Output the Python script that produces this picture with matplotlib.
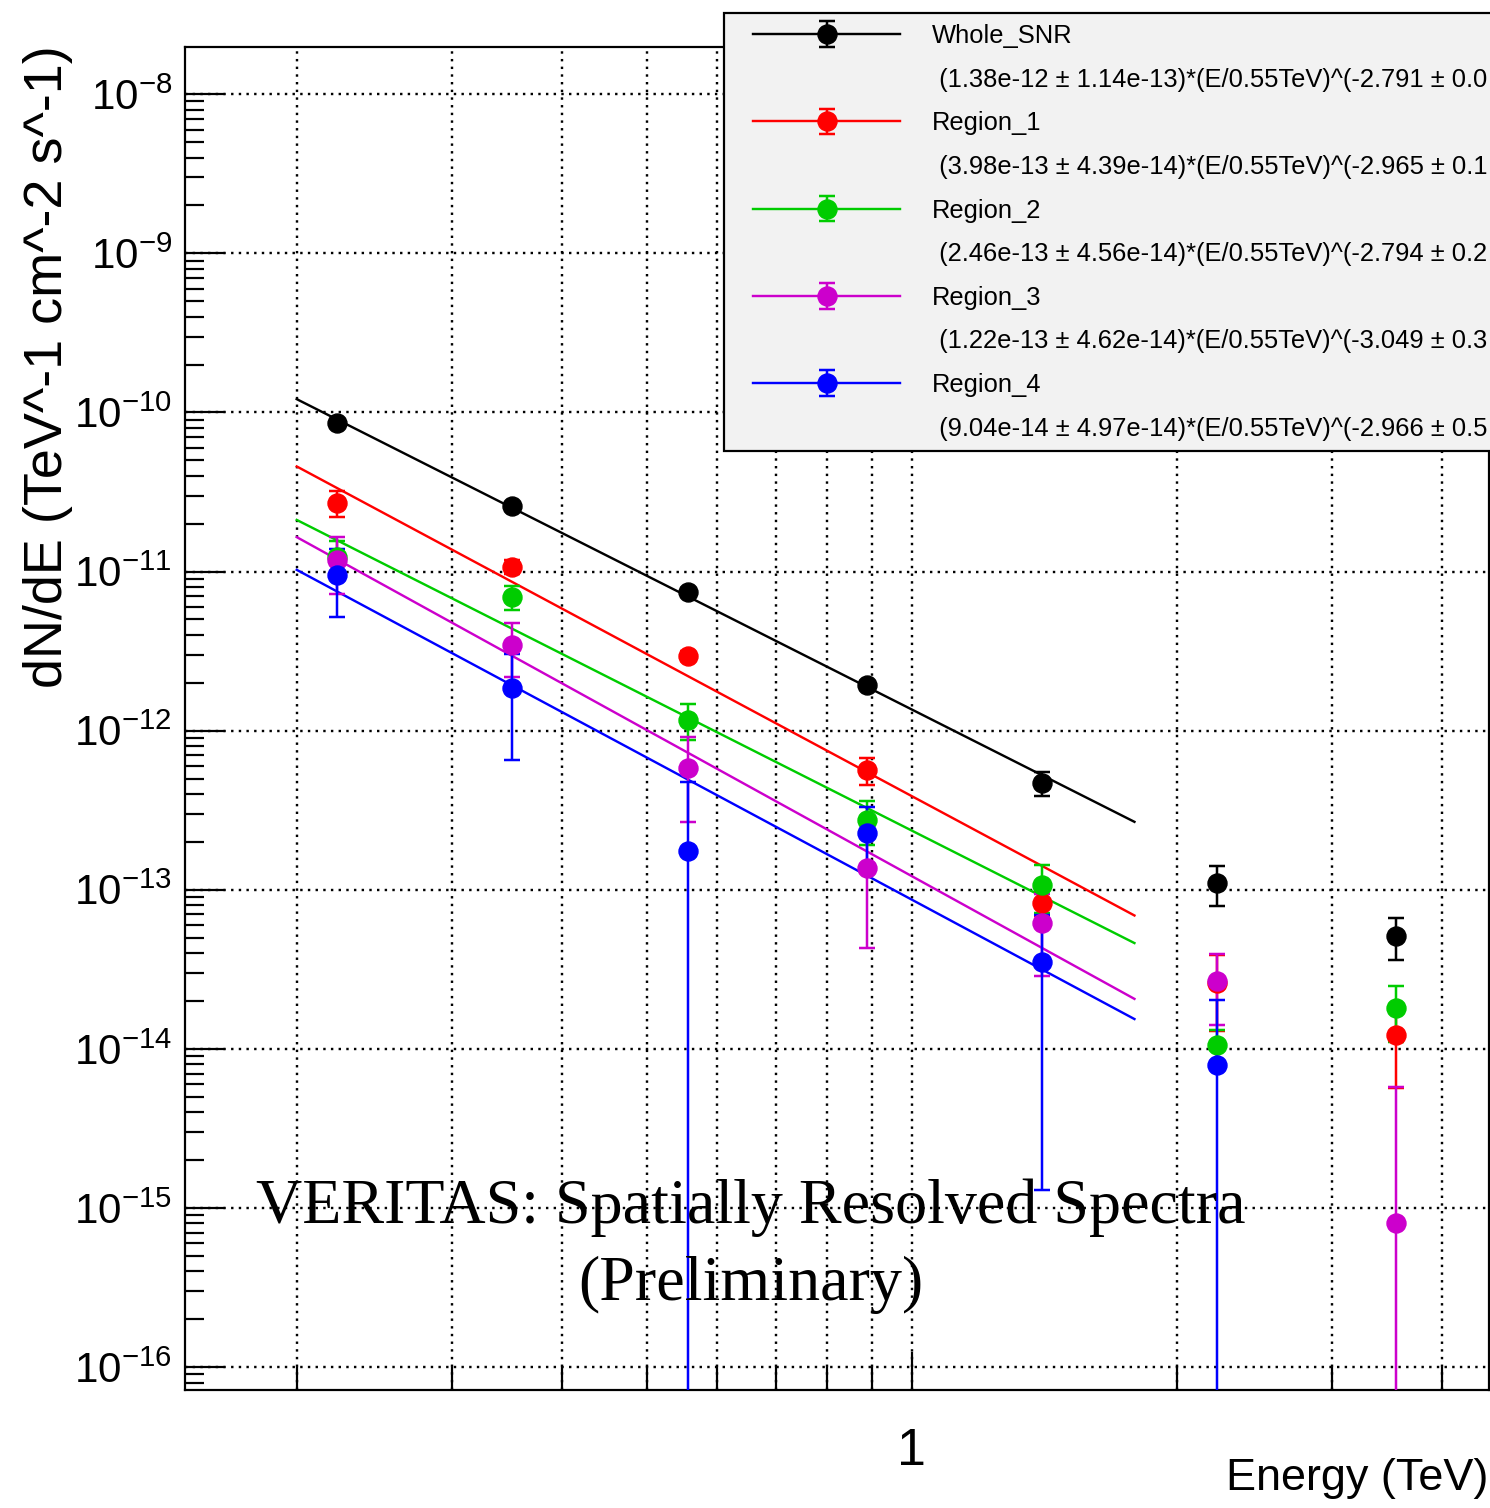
import numpy as np
import matplotlib
matplotlib.use("Agg")
import matplotlib.pyplot as plt
from matplotlib.lines import Line2D
from matplotlib.patches import Rectangle
from matplotlib.ticker import FixedLocator, FuncFormatter, LogLocator, NullFormatter

# ---------------- data ----------------
energy = [0.222, 0.351, 0.557, 0.888, 1.404, 2.224, 3.548]  # TeV

whole_flux = [8.63e-11, 2.58e-11, 7.48e-12, 1.94e-12, 4.67e-13, 1.10e-13, 5.13e-14]
whole_err = [4.0e-12, 1.2e-12, 3.5e-13, 1.0e-13, 8.0e-14, 3.1e-14, 1.5e-14]

r1_flux = [2.69e-11, 1.07e-11, 2.95e-12, 5.66e-13, 8.3e-14, 2.6e-14, 1.22e-14]
r1_err = [5.0e-12, 1.1e-12, 2.0e-13, 1.1e-13, 1.5e-14, 1.3e-14, 6.5e-15]

r2_flux = [1.24e-11, 6.95e-12, 1.17e-12, 2.75e-13, 1.07e-13, 1.06e-14, 1.80e-14]
r2_err = [3.2e-12, 1.2e-12, 3.0e-13, 0.85e-13, 3.6e-14, 2.5e-15, 7.0e-15]

r3_flux = [1.18e-11, 3.46e-12, 5.86e-13, 1.37e-13, 6.16e-14, 2.67e-14, 8.0e-16]
r3_err = [4.6e-12, 1.3e-12, 3.2e-13, 9.4e-14, 3.3e-14, 1.25e-14, 5.0e-15]

r4_flux = [9.5e-12, 1.85e-12, 1.74e-13, 2.29e-13, 3.53e-14, 7.9e-15, np.nan]
r4_err = [4.3e-12, 1.2e-12, 3.0e-13, 1.0e-13, 3.4e-14, 1.24e-14, np.nan]

series_names = ["Whole_SNR", "Region_1", "Region_2", "Region_3", "Region_4"]
fit_texts = [
    "(1.38e-12 \u00b1 1.14e-13)*(E/0.55TeV)^(-2.791 \u00b1 0.0",
    "(3.98e-13 \u00b1 4.39e-14)*(E/0.55TeV)^(-2.965 \u00b1 0.1",
    "(2.46e-13 \u00b1 4.56e-14)*(E/0.55TeV)^(-2.794 \u00b1 0.2",
    "(1.22e-13 \u00b1 4.62e-14)*(E/0.55TeV)^(-3.049 \u00b1 0.3",
    "(9.04e-14 \u00b1 4.97e-14)*(E/0.55TeV)^(-2.966 \u00b1 0.5",
]
# fitted power laws as drawn on the plot (flux at 0.55 TeV, index)
fit_norm_drawn = [7.2e-12, 2.28e-12, 1.25e-12, 7.53e-13, 5.1e-13]
fit_index = [2.791, 2.965, 2.794, 3.049, 2.966]
fit_range = [0.2, 1.79]
e_pivot = 0.55

colors = ["#000000", "#ff0000", "#00cc00", "#cc00cc", "#0000ff"]

fluxes = [whole_flux, r1_flux, r2_flux, r3_flux, r4_flux]
errs = [whole_err, r1_err, r2_err, r3_err, r4_err]

# ---------------- fonts ----------------
SANS = "Liberation Sans"
SERIF = "Liberation Serif"

plt.rcParams["font.family"] = [SANS, "DejaVu Sans"]
plt.rcParams["mathtext.fontset"] = "custom"
plt.rcParams["mathtext.rm"] = SANS
plt.rcParams["mathtext.it"] = SANS + ":italic"
plt.rcParams["mathtext.bf"] = SANS + ":bold"

W, H = 1490, 1508
DPI = 100
fig = plt.figure(figsize=(W / DPI, H / DPI), dpi=DPI)
fig.patch.set_facecolor("white")

L, R, T, B = 185, 1489, 47, 1390
ax = fig.add_axes([L / W, 1 - B / H, (R - L) / W, (B - T) / H])
ax.set_xscale("log")
ax.set_yscale("log")
ax.set_xlim(0.1493, 4.526)
ax.set_ylim(7.18e-17, 1.98e-8)

px = 72.0 / DPI  # points per pixel

# fit lines
fit_lines = []
e_fit = np.array(fit_range)
for c, n, g in zip(colors, fit_norm_drawn, fit_index):
    ln, = ax.plot(e_fit, n * (e_fit / e_pivot) ** (-g), color=c, lw=2.4 * px, zorder=3)
    fit_lines.append(ln)

# data points
containers = []
for c, f, e in zip(colors, fluxes, errs):
    cont = ax.errorbar(energy, f, yerr=e, fmt="o", color=c, ms=19 * px, mec=c,
                       elinewidth=2.5 * px, capsize=6 * px * 1.4, capthick=2.5 * px,
                       zorder=4)
    containers.append(cont)

# grid
gstyle = dict(color="black", linestyle=(0, (1, 2.2)), linewidth=2.4 * px)
ax.xaxis.grid(True, which="both", **gstyle)
ax.yaxis.grid(True, which="major", **gstyle)
ax.set_axisbelow(True)

# ticks
ax.xaxis.set_major_locator(FixedLocator([1.0]))
ax.xaxis.set_major_formatter(FuncFormatter(lambda v, p: "1"))
ax.xaxis.set_minor_locator(FixedLocator([0.2, 0.3, 0.4, 0.5, 0.6, 0.7, 0.8, 0.9, 2, 3, 4]))
ax.xaxis.set_minor_formatter(NullFormatter())

ax.yaxis.set_major_locator(FixedLocator([10.0 ** k for k in range(-16, -7)]))
ax.yaxis.set_major_formatter(FuncFormatter(lambda v, p: r"$\mathregular{10^{%d}}$" % int(round(np.log10(v)))))
ax.yaxis.set_minor_locator(LogLocator(base=10, subs=np.arange(2, 10), numticks=50))
ax.yaxis.set_minor_formatter(NullFormatter())

ax.tick_params(axis="both", which="both", direction="in", top=False, right=False,
               width=2.2 * px, color="black")
ax.tick_params(axis="y", which="major", length=40 * px, pad=13 * px, labelsize=42 * px)
ax.tick_params(axis="y", which="minor", length=19 * px)
ax.tick_params(axis="x", which="major", length=38 * px, pad=37 * px, labelsize=52 * px)
ax.tick_params(axis="x", which="minor", length=23 * px)

for s in ax.spines.values():
    s.set_linewidth(2.2 * px)
    s.set_color("black")

# axis titles
ax.set_xlabel("Energy (TeV)", fontsize=45 * px)
ax.xaxis.label.set_ha("right")
ax.xaxis.label.set_va("top")
ax.xaxis.set_label_coords((1488 - L) / (R - L), (B - 1458) / (B - T))

ax.set_ylabel("dN/dE (TeV^-1 cm^-2 s^-1)", fontsize=54 * px)
ax.yaxis.label.set_rotation_mode("default")
ax.yaxis.label.set_ha("center")
ax.yaxis.label.set_va("top")
ax.yaxis.set_label_coords((48 - L) / (R - L), (B - 45) / (B - T))

# overlay title text
ax.text((751 - L) / (R - L), (B - 1208) / (B - T), "VERITAS: Spatially Resolved Spectra",
        transform=ax.transAxes, ha="center", va="center", fontsize=64 * px,
        family=[SERIF, "DejaVu Serif"], zorder=6)
ax.text((751 - L) / (R - L), (B - 1285) / (B - T), "(Preliminary)",
        transform=ax.transAxes, ha="center", va="center", fontsize=64 * px,
        family=[SERIF, "DejaVu Serif"], zorder=6)

# legend box and entries
box = Rectangle((724 / W, 1 - 451 / H), (W + 20 - 724) / W, (451 - 13) / H,
                transform=fig.transFigure, facecolor="#f2f2f2", edgecolor="black",
                linewidth=2.2 * px, zorder=2)
fig.patches.append(box)

blank = Line2D([], [], linestyle="none", marker=None)
handles, labels = [], []
for ln, cont, name, ft in zip(fit_lines, containers, series_names, fit_texts):
    handles += [(ln, cont), blank]
    labels += [name, " " + ft]

FS = 25.5
leg = fig.legend(handles, labels, loc="upper left",
                 bbox_to_anchor=(753 / W, 1 - 24 / H), bbox_transform=fig.transFigure,
                 frameon=False, fontsize=FS * px, handlelength=147 / FS,
                 handletextpad=(932 - 900) / FS, labelspacing=0.77,
                 borderpad=0.0, borderaxespad=0.0)
leg.set_zorder(5)

fig.savefig("out.png", dpi=DPI)
